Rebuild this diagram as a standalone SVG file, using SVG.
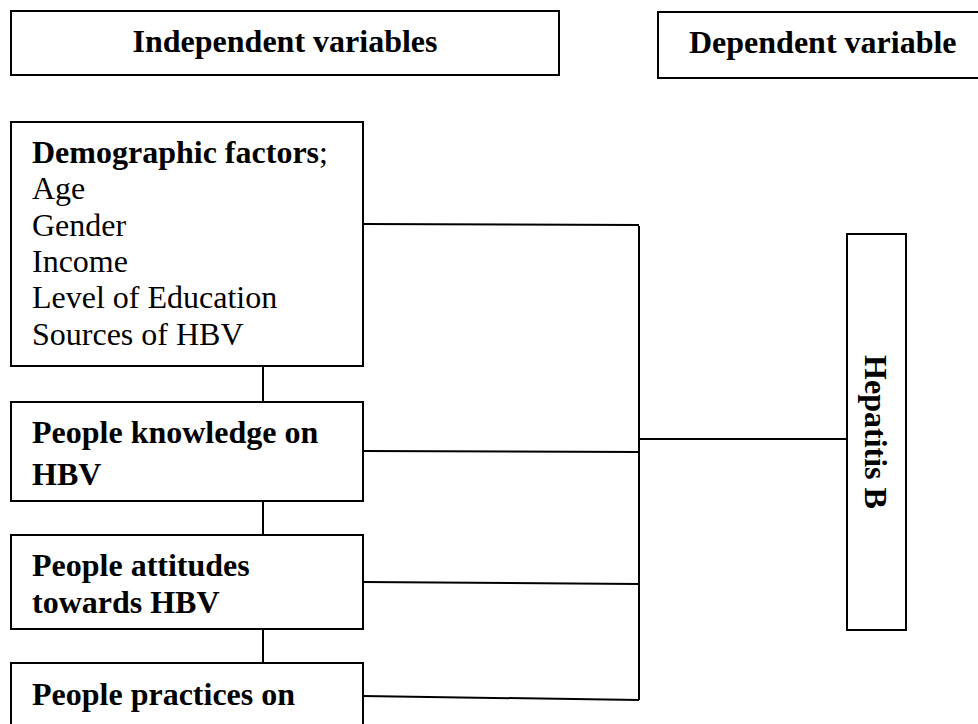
<svg xmlns="http://www.w3.org/2000/svg" width="978" height="724" viewBox="0 0 978 724">
<style>
.box{fill:#fff;stroke:#000;stroke-width:2}
.ln{fill:none;stroke:#000;stroke-width:2}
.b{font-family:"Liberation Serif","Times New Roman",serif;font-size:32px;font-weight:bold;fill:#000}
.r{font-family:"Liberation Serif","Times New Roman",serif;font-size:32px;fill:#000}
</style>
<rect width="978" height="724" fill="#fff"/>
<g id="connectors">
<line class="ln" x1="263" y1="366" x2="263" y2="402"/>
<line class="ln" x1="263" y1="501" x2="263" y2="535"/>
<line class="ln" x1="263" y1="629" x2="263" y2="663"/>
<line class="ln" x1="363" y1="224" x2="639" y2="225"/>
<line class="ln" x1="363" y1="451" x2="639" y2="452"/>
<line class="ln" x1="363" y1="582" x2="639" y2="584"/>
<line class="ln" x1="363" y1="696" x2="639" y2="700"/>
<line class="ln" x1="639" y1="226" x2="639" y2="700"/>
<line class="ln" x1="639" y1="439" x2="847" y2="439"/>
</g>
<g id="independent">
<rect class="box" x="11" y="11" width="548" height="64"/>
<text class="b" x="285" y="52" text-anchor="middle">Independent variables</text>
</g>
<g id="dependent">
<rect class="box" x="658" y="12" width="340" height="66"/>
<text class="b" x="689" y="53">Dependent variable</text>
</g>
<g id="demographic">
<rect class="box" x="11" y="122" width="352" height="244"/>
<text x="32" y="163"><tspan class="b">Demographic factors</tspan><tspan class="r">;</tspan></text>
<text class="r" x="32" y="199">Age</text>
<text class="r" x="32" y="236">Gender</text>
<text class="r" x="32" y="272">Income</text>
<text class="r" x="32" y="308">Level of Education</text>
<text class="r" x="32" y="345">Sources of HBV</text>
</g>
<g id="knowledge">
<rect class="box" x="11" y="402" width="352" height="99"/>
<text class="b" x="32" y="443">People knowledge on</text>
<text class="b" x="32" y="485">HBV</text>
</g>
<g id="attitudes">
<rect class="box" x="11" y="535" width="352" height="94"/>
<text class="b" x="32" y="576">People attitudes</text>
<text class="b" x="32" y="613">towards HBV</text>
</g>
<g id="practices">
<rect class="box" x="11" y="663" width="352" height="80"/>
<text class="b" x="32" y="705">People practices on</text>
</g>
<g id="hepatitis">
<rect class="box" x="847" y="234" width="59" height="396"/>
<text class="b" transform="translate(865,432) rotate(90)" text-anchor="middle">Hepatitis B</text>
</g>
</svg>
